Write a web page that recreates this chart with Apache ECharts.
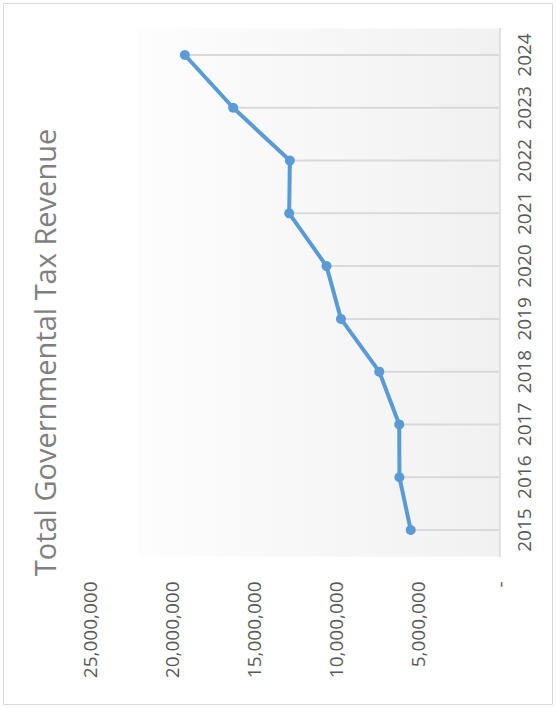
<!DOCTYPE html>
<html>
<head>
<meta charset="utf-8">
<title>Total Governmental Tax Revenue</title>
<script src="https://cdn.jsdelivr.net/npm/echarts@6/dist/echarts.min.js"></script>
<style>
  html, body { margin: 0; padding: 0; background: #ffffff; overflow: hidden; }
  #chart { width: 556px; height: 708px; }
</style>
</head>
<body>
<div id="chart"></div>
<script>
// Fiscal years (drawn bottom to top along the category axis)
const years = ['2015', '2016', '2017', '2018', '2019', '2020', '2021', '2022', '2023', '2024'];

// Total governmental tax revenue per year
const revenue = [5420000, 6110000, 6120000, 7340000, 9680000, 10560000, 12840000, 12800000, 16260000, 19210000];

// Value axis scale
const valueMin = 0;
const valueMax = 25000000;
const valueStep = 5000000;

const chartTitle = 'Total Governmental Tax Revenue';

function formatAmount(v) {
  if (v === 0) return '-';
  return String(v).replace(/\B(?=(\d{3})+(?!\d))/g, ',');
}

const labelFont = { fontFamily: 'Open Sans', fontSize: 19, color: '#595959' };

const chart = echarts.init(document.getElementById('chart'), null, { renderer: 'svg' });

chart.setOption({
  animation: false,
  backgroundColor: '#ffffff',
  graphic: [
    {
      type: 'rect',
      z: -20,
      silent: true,
      shape: { x: 3.5, y: 3.5, width: 549, height: 701 },
      style: { fill: '#ffffff', stroke: '#d9d9d9', lineWidth: 1 }
    },
    {
      type: 'rect',
      z: -10,
      silent: true,
      shape: { x: 138, y: 28.6, width: 361.5, height: 527.8 },
      style: {
        fill: new echarts.graphic.LinearGradient(0, 0, 1, 0, [
          { offset: 0, color: '#fdfdfd' },
          { offset: 1, color: '#f1f1f1' }
        ])
      }
    },
    {
      type: 'text',
      x: 44,
      y: 352.5,
      rotation: Math.PI / 2,
      silent: true,
      style: {
        text: chartTitle,
        fontFamily: 'Open Sans',
        fontSize: 29,
        fill: '#7f7f7f',
        align: 'center',
        verticalAlign: 'middle'
      }
    }
  ],
  grid: {
    left: 90,
    right: 56.5,
    top: 28.6,
    bottom: 151.6,
    containLabel: false
  },
  xAxis: {
    type: 'value',
    inverse: true,
    position: 'bottom',
    min: valueMin,
    max: valueMax,
    interval: valueStep,
    axisLine: { show: false },
    axisTick: { show: false },
    splitLine: { show: false },
    axisLabel: Object.assign({
      rotate: 90,
      margin: 25,
      formatter: formatAmount
    }, labelFont)
  },
  yAxis: {
    type: 'category',
    position: 'right',
    data: years,
    boundaryGap: true,
    axisLine: { show: true, lineStyle: { color: '#d9d9d9', width: 1.5 } },
    axisTick: { show: false },
    splitLine: { show: false },
    axisLabel: Object.assign({
      rotate: 90,
      margin: 15,
      interval: 0,
      hideOverlap: false
    }, labelFont)
  },
  series: [
    {
      // drop lines from each point to the category axis
      type: 'bar',
      data: revenue,
      barWidth: 2,
      silent: true,
      itemStyle: { color: '#d9d9d9' },
      z: 1
    },
    {
      type: 'line',
      data: revenue,
      symbol: 'circle',
      symbolSize: 10,
      lineStyle: { color: '#5b9bd5', width: 4 },
      itemStyle: { color: '#5b9bd5' },
      z: 3
    }
  ]
});
</script>
</body>
</html>
